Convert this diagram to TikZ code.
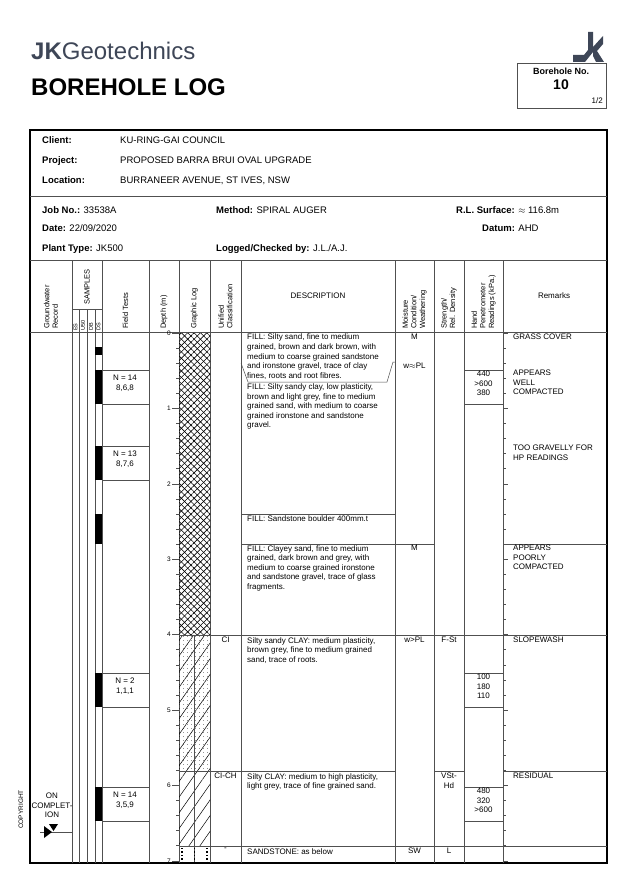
\documentclass[tikz,border=0pt]{standalone}
\usepackage{fontspec}
\setmainfont{Liberation Sans}
\usetikzlibrary{patterns,patterns.meta}
\definecolor{jkslate}{HTML}{3E4657}
\definecolor{gridgrey}{HTML}{505050}

\begin{document}
\begin{tikzpicture}[x=1pt,y=-1pt,
    txt/.style={font=\fontsize{8}{9.6}\selectfont, inner sep=0pt, align=left, anchor=north west},
    ctr/.style={font=\fontsize{8}{9.6}\selectfont, inner sep=0pt, align=center, anchor=north},
    lbl/.style={font=\fontsize{9.5}{11}\selectfont\bfseries, inner sep=0pt, anchor=base west},
    val/.style={font=\fontsize{9.5}{11}\selectfont, inner sep=0pt, anchor=base west},
    rot/.style={font=\fontsize{7.5}{8.6}\selectfont, inner sep=0pt, align=left, rotate=90, anchor=west},
    grid/.style={line width=0.5pt, draw=gridgrey},
    frame/.style={line width=1.4pt},
    blk/.style={fill=black}
]
\useasboundingbox (0,0) rectangle (637,896);

% Title block
\node[font=\fontsize{24}{26}\selectfont, text=jkslate, inner sep=0pt, anchor=base west] (brand) at (31,60) {\textbf{JK}Geotechnics};
\node[font=\fontsize{24}{26}\selectfont\bfseries, inner sep=0pt, anchor=base west] (title) at (31,96) {BOREHOLE LOG};
\fill[jkslate] (588,32) -- (593,32) -- (593,52) -- (585,62) -- (573,62) -- (573,55) -- (584,55) -- (588,50) -- cycle;
\fill[jkslate] (593,47) -- (603,36) -- (603,44) -- (597,51) -- (604,62) -- (596,62) -- (593,56) -- cycle;
\draw[grid] (517,63) rectangle (606,108);
\node[font=\fontsize{9}{10}\selectfont\bfseries, inner sep=0pt] (bhno) at (561,71) {Borehole No.};
\node[font=\fontsize{14}{15}\selectfont\bfseries, inner sep=0pt] (bhnum) at (561,85) {10};
\node[font=\fontsize{8}{9}\selectfont, inner sep=0pt, anchor=east] (sheet) at (603,101) {1/2};

% Project details
\node[lbl] (client) at (42,144) {Client:};
\node[val] (clientv) at (120,144) {KU-RING-GAI COUNCIL};
\node[lbl] (project) at (42,164) {Project:};
\node[val] (projectv) at (120,164) {PROPOSED BARRA BRUI OVAL UPGRADE};
\node[lbl] (location) at (42,184) {Location:};
\node[val] (locationv) at (120,184) {BURRANEER AVENUE, ST IVES, NSW};
\node[lbl] (job) at (42,213) {Job No.: \mdseries 33538A};
\node[lbl] (method) at (216,213) {Method: \mdseries SPIRAL AUGER};
\node[lbl] (rl) at (456,213) {R.L. Surface: \mdseries$\approx$ 116.8m};
\node[lbl] (date) at (42,231) {Date: \mdseries 22/09/2020};
\node[lbl] (datum) at (482,231) {Datum: \mdseries AHD};
\node[lbl] (plant) at (42,251) {Plant Type: \mdseries JK500};
\node[lbl] (logged) at (216,251) {Logged/Checked by: \mdseries J.L./A.J.};

% Frame and grid
\draw[frame] (30,130) rectangle (607,863);
\draw[grid] (30,196) -- (607,196);
\draw[grid] (30,260) -- (607,260);
\draw[grid] (30,332) -- (607,332);
\foreach \x in {72,102,149,179,210,241,395,434,464,503}
  \draw[grid] (\x,260) -- (\x,863);
\draw[grid] (72,309) -- (102,309);
\foreach \x in {79,87,95}
  \draw[grid] (\x,309) -- (\x,863);

% Column headings
\node[rot] (gw) at (51,329) {Groundwater\\Record};
\node[rot] (smp) at (87,305) {SAMPLES};
\node[rot, font=\fontsize{5.5}{6}\selectfont] (es) at (75.5,331) {ES};
\node[rot, font=\fontsize{5.5}{6}\selectfont] (u50) at (83,331) {U50};
\node[rot, font=\fontsize{5.5}{6}\selectfont] (db) at (91,331) {DB};
\node[rot, font=\fontsize{5.5}{6}\selectfont] (ds) at (98.5,331) {DS};
\node[rot] (ft) at (125.5,329) {Field Tests};
\node[rot] (dep) at (164,329) {Depth (m)};
\node[rot] (glog) at (194.5,329) {Graphic Log};
\node[rot] (uc) at (225.5,329) {Unified\\Classification};
\node[font=\fontsize{8}{9.6}\selectfont, inner sep=0pt] (desc) at (318,296) {DESCRIPTION};
\node[rot] (moist) at (414.5,329) {Moisture\\Condition/\\Weathering};
\node[rot] (str) at (449,329) {Strength/\\Rel. Density};
\node[rot] (hp) at (483.5,329) {Hand\\Penetrometer\\Readings (kPa.)};
\node[font=\fontsize{8}{9.6}\selectfont, inner sep=0pt] (rem) at (554,296) {Remarks};

% Graphic log
\fill[pattern={Lines[angle=45,distance=4.5pt,line width=0.6pt]}] (179,333) rectangle (210,635);
\fill[pattern={Lines[angle=-45,distance=4.5pt,line width=0.6pt]}] (179,333) rectangle (210,635);
\fill[pattern={Lines[angle=55,distance=9pt,line width=0.5pt]}] (179,635) rectangle (210,846);
\fill[pattern={Dots[distance=4pt,radius=0.4pt]}] (179,635) rectangle (210,771);
\draw[grid] (194.5,635) -- (194.5,863);
\foreach \x in {182,194.5,207}
  \draw[line width=1.4pt, dash pattern=on 1.4pt off 2pt] (\x,848) -- (\x,863);

% Depth ticks
\foreach \i in {0,...,35}
  \draw[grid] (176,{333+\i*15.08}) -- (179,{333+\i*15.08}) (503,{333+\i*15.08}) -- (506,{333+\i*15.08});
\foreach \d in {0,...,7} {
  \draw[grid] (172,{333+\d*75.4}) -- (179,{333+\d*75.4}) (503,{333+\d*75.4}) -- (508,{333+\d*75.4});
  \node[font=\fontsize{6.5}{7}\selectfont, inner sep=0pt, anchor=east] (d\d) at (171,{333+\d*75.4}) {\d};
}

% Samples and field tests
\foreach \a/\b in {347/355,370/404,446/480,514/544,673/707,787/821}
  \fill[blk] (95,\a) rectangle (102,\b);
\foreach \a/\b in {370/404,446/480,673/707,787/821}
  \draw[grid] (102,\a) -- (149,\a) (102,\b) -- (149,\b);
\node[ctr] (spt1) at (125,375) {N = 14\\8,6,8};
\node[ctr] (spt2) at (125,451) {N = 13\\8,7,6};
\node[ctr] (spt3) at (125,678) {N = 2\\1,1,1};
\node[ctr] (spt4) at (125,792) {N = 14\\3,5,9};

% Strata boundaries
\draw[grid] (395,362) -- (393,362) -- (387,382) -- (248,382) -- (241,363);
\draw[grid] (241,514) -- (395,514);
\draw[grid] (241,544) -- (434,544) (503,544) -- (607,544);
\draw[grid] (179,635) -- (607,635);
\draw[grid] (179,771) -- (395,771) (434,771) -- (464,771) (503,771) -- (607,771);
\draw[grid] (179,846) -- (607,846);
\foreach \a/\b in {370/404,673/707,787/821}
  \draw[grid] (464,\a) -- (503,\a) (464,\b) -- (503,\b);

% Descriptions
\node[txt] (fill1) at (247,334) {FILL: Silty sand, fine to medium\\grained, brown and dark brown, with\\medium to coarse grained sandstone\\and ironstone gravel, trace of clay\\fines, roots and root fibres.};
\node[txt] (fill2) at (247,383.5) {FILL: Silty sandy clay, low plasticity,\\brown and light grey, fine to medium\\grained sand, with medium to coarse\\grained ironstone and sandstone\\gravel.};
\node[txt] (fill3) at (247,515) {FILL: Sandstone boulder 400mm.t};
\node[txt] (fill4) at (247,545) {FILL: Clayey sand, fine to medium\\grained, dark brown and grey, with\\medium to coarse grained ironstone\\and sandstone gravel, trace of glass\\fragments.};
\node[txt] (clay1) at (247,637) {Silty sandy CLAY: medium plasticity,\\brown grey, fine to medium grained\\sand, trace of roots.};
\node[txt] (clay2) at (247,773) {Silty CLAY: medium to high plasticity,\\light grey, trace of fine grained sand.};
\node[txt] (sst) at (247,848) {SANDSTONE: as below};

% Classification, moisture, strength
\node[ctr] (uc1) at (225.5,637) {CI};
\node[ctr] (uc2) at (225.5,773) {CI-CH};
\node[ctr] (uc3) at (225.5,848) {-};
\node[ctr] (m1) at (414.5,334) {M};
\node[ctr] (m2) at (414.5,363) {w$\approx$PL};
\node[ctr] (m3) at (414.5,545) {M};
\node[ctr] (m4) at (414.5,637) {w>PL};
\node[ctr] (m5) at (414.5,848) {SW};
\node[ctr] (s1) at (449,637) {F-St};
\node[ctr] (s2) at (449,773) {VSt-\\Hd};
\node[ctr] (s3) at (449,848) {L};
\node[ctr] (hp1) at (483.5,371) {440\\>600\\380};
\node[ctr] (hp2) at (483.5,674) {100\\180\\110};
\node[ctr] (hp3) at (483.5,788) {480\\320\\>600};

% Remarks
\node[txt] (r1) at (513,334) {GRASS COVER};
\node[txt] (r2) at (513,370) {APPEARS\\WELL\\COMPACTED};
\node[txt] (r3) at (513,445) {TOO GRAVELLY FOR\\HP READINGS};
\node[txt] (r4) at (513,545) {APPEARS\\POORLY\\COMPACTED};
\node[txt] (r5) at (513,637) {SLOPEWASH};
\node[txt] (r6) at (513,773) {RESIDUAL};

% Groundwater
\node[ctr] (gw1) at (52,793) {ON\\COMPLET-\\ION};
\coordinate (wl) at (72,832);
\draw[grid] (40,832) -- (wl);
\fill (44,826) -- (52,832) -- (44,838) -- cycle;
\fill (49,824) -- (58,824) -- (53.5,831) -- cycle;
\node[font=\fontsize{6.5}{7}\selectfont, inner sep=0pt, rotate=90, anchor=west] (copy) at (21,829) {COPYRIGHT};

\end{tikzpicture}
\end{document}
